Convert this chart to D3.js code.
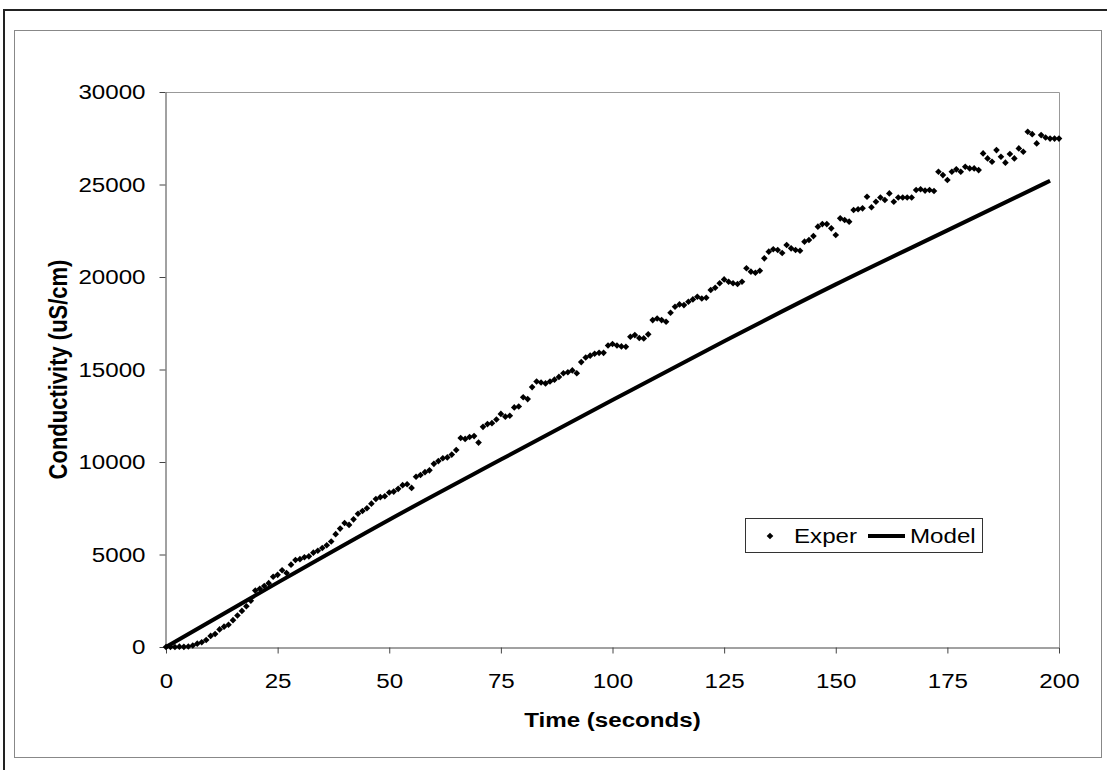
<!DOCTYPE html>
<meta charset="utf-8">
<style>
body {
  margin: 0;
  background: #fff;
  font-family: "Liberation Sans", Arial, sans-serif;
}
.axis text {
  font-size: 21px;
  fill: #000;
}
.axis path, .axis line {
  stroke: #444;
  stroke-width: 1;
}
.label {
  font-size: 21px;
  font-weight: bold;
}
.legend text {
  font-size: 21px;
}
</style>
<body>
<script src="https://cdn.jsdelivr.net/npm/d3@7"></script>
<script>

var width = 1107,
    height = 770,
    stretch = 1.15;   // the chart text looks a bit wide, like a stretched Excel export

// conductivity readings, one per second starting at t = 0
var expCond = [
  0, 10, 0, 20, 10, 30, 80, 180, 260, 380,
  600, 700, 950, 1100, 1200, 1450, 1700, 1950, 2200, 2500,
  3050, 3150, 3300, 3450, 3800, 3900, 4150, 4000, 4450, 4700,
  4750, 4850, 4900, 5100, 5200, 5350, 5500, 5700, 6100, 6400,
  6700, 6600, 6900, 7200, 7350, 7500, 7750, 8000, 8100, 8150,
  8350, 8400, 8550, 8750, 8800, 8600, 9200, 9300, 9450, 9550,
  9900, 10050, 10200, 10250, 10400, 10650, 11300, 11250, 11350, 11400,
  11050, 11900, 12050, 12100, 12300, 12600, 12450, 12500, 12950, 13000,
  13500, 13400, 14050, 14350, 14300, 14250, 14350, 14450, 14600, 14800,
  14850, 14950, 14800, 15400, 15650, 15750, 15850, 15900, 15900, 16300,
  16380, 16300, 16250, 16230, 16770, 16860, 16700, 16680, 16900, 17670,
  17760, 17670, 17580, 18070, 18390, 18520, 18480, 18660, 18790, 18930,
  18840, 18880, 19300, 19420, 19660, 19870, 19740, 19660, 19620, 19740,
  20470, 20290, 20230, 20340, 21010, 21370, 21500, 21460, 21300, 21730,
  21550, 21460, 21420, 21910, 22000, 22210, 22720, 22860, 22860, 22630,
  22270, 23170, 23080, 22990, 23620, 23660, 23710, 24340, 23770, 24070,
  24300, 24160, 24520, 24070, 24300, 24300, 24300, 24300, 24700, 24740,
  24670, 24700, 24650, 25690, 25510, 25240, 25690, 25820, 25690, 25960,
  25870, 25870, 25780, 26680, 26410, 26230, 26860, 26500, 26180, 26650,
  26410, 26950, 26770, 27850, 27720, 27220, 27670, 27540, 27480, 27480,
  27480
];

var modelTime = [0, 25, 50, 75, 100, 125, 150, 175, 198];
var modelCond = [0, 3480, 6880, 10130, 13350, 16530, 19600, 22520, 25200];

var xTicks = [0, 25, 50, 75, 100, 125, 150, 175, 200];
var yTicks = [0, 5000, 10000, 15000, 20000, 25000, 30000];

var x = d3.scaleLinear().domain([0, 200]).range([166, 1059]);
var y = d3.scaleLinear().domain([0, 30000]).range([647, 92]);

var svg = d3.select("body").append("svg")
    .attr("width", width)
    .attr("height", height);

// outer frame and chart area frame
svg.append("rect")
    .attr("x", 4).attr("y", 10)
    .attr("width", 1120).attr("height", 780)
    .attr("fill", "none")
    .attr("stroke", "#222")
    .attr("stroke-width", 2);

svg.append("rect")
    .attr("x", 14.5).attr("y", 30.5)
    .attr("width", 1087).attr("height", 727)
    .attr("fill", "none")
    .attr("stroke", "#888")
    .attr("stroke-width", 1);

// plot area border (top/right)
svg.append("path")
    .attr("d", "M" + x(0) + "," + (y(30000) + 0.5) + "H" + (x(200) + 0.5) + "V" + y(0))
    .attr("fill", "none")
    .attr("stroke", "#999");

var xAxis = svg.append("g")
    .attr("class", "axis")
    .attr("transform", "translate(0," + (y(0) + 0.5) + ")")
    .call(d3.axisBottom(x).tickValues(xTicks).tickFormat(d3.format("d")).tickSizeInner(6).tickSizeOuter(0));

xAxis.selectAll("text")
    .attr("y", 0)
    .attr("dy", "0.71em")
    .attr("transform", "translate(0,26) scale(" + stretch + ",1)");

var yAxis = svg.append("g")
    .attr("class", "axis")
    .attr("transform", "translate(" + (x(0) - 0.5) + ",0)")
    .call(d3.axisLeft(y).tickValues(yTicks).tickFormat(d3.format("d")).tickSizeInner(6).tickSizeOuter(0));

yAxis.selectAll("text")
    .attr("x", 0)
    .attr("transform", "translate(-20,0) scale(" + stretch + ",1)");

// model line
var line = d3.line()
    .x(function(d, i) { return x(modelTime[i]); })
    .y(function(d) { return y(d); })
    .curve(d3.curveMonotoneX);

svg.append("path")
    .datum(modelCond)
    .attr("fill", "none")
    .attr("stroke", "#000")
    .attr("stroke-width", 4)
    .attr("d", line);

// experimental points
var diamond = d3.symbol().type(d3.symbolDiamond2).size(28);

svg.selectAll(".point")
    .data(expCond)
  .enter().append("path")
    .attr("class", "point")
    .attr("d", diamond)
    .attr("fill", "#000")
    .attr("transform", function(d, i) { return "translate(" + x(i) + "," + y(d) + ")"; });

// axis titles
svg.append("text")
    .attr("class", "label")
    .attr("text-anchor", "middle")
    .attr("transform", "translate(" + ((x(0) + x(200)) / 2) + ",727) scale(" + stretch + ",1)")
    .text("Time (seconds)");

svg.append("text")
    .attr("class", "label")
    .attr("text-anchor", "middle")
    .style("font-size", "22px")
    .attr("transform", "translate(67," + ((y(0) + y(30000)) / 2) + ") rotate(-90) scale(1," + stretch + ")")
    .text("Conductivity (uS/cm)");

// legend
var legend = svg.append("g")
    .attr("class", "legend")
    .attr("transform", "translate(745,518)");

legend.append("rect")
    .attr("x", 0.5).attr("y", 0.5)
    .attr("width", 237).attr("height", 34)
    .attr("fill", "#fff")
    .attr("stroke", "#333");

legend.append("path")
    .attr("d", diamond)
    .attr("fill", "#000")
    .attr("transform", "translate(25,18)");

legend.append("text")
    .attr("transform", "translate(49,25) scale(" + stretch + ",1)")
    .text("Exper");

legend.append("line")
    .attr("x1", 123).attr("x2", 160)
    .attr("y1", 18).attr("y2", 18)
    .attr("stroke", "#000")
    .attr("stroke-width", 4);

legend.append("text")
    .attr("transform", "translate(165,25) scale(" + stretch + ",1)")
    .text("Model");

</script>
